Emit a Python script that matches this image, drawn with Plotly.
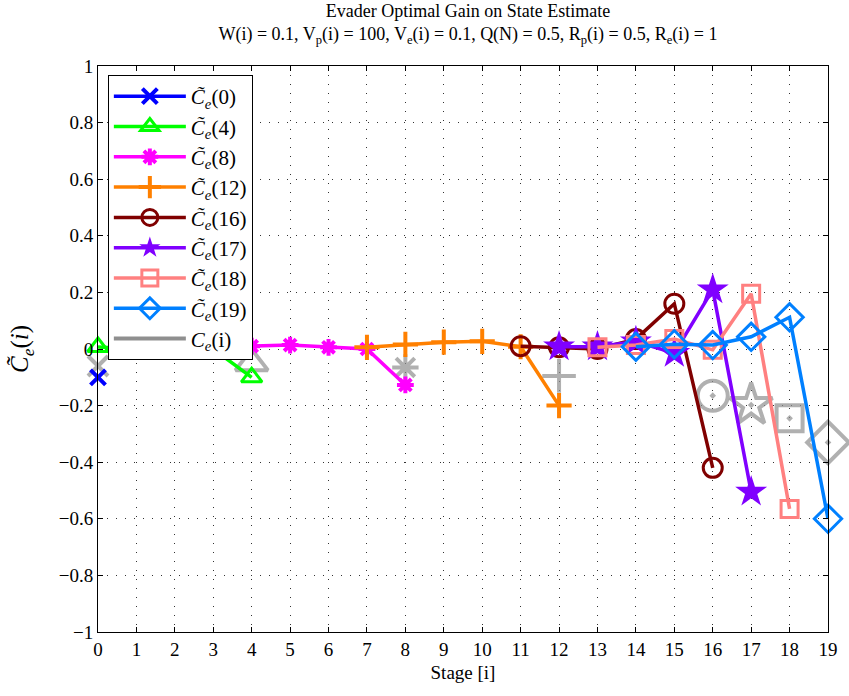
import plotly.graph_objects as go

# ---- data ----
stages_c0 = [0]
vals_c0 = [-0.10]

stages_c4 = [0, 1, 2, 3, 4]
vals_c4 = [0.007, 0.0, 0.0, 0.0, -0.10]

stages_c8 = [3, 4, 5, 6, 7, 8]
vals_c8 = [-0.005, 0.01, 0.014, 0.006, 0.0, -0.127]

stages_c12 = [7, 8, 9, 10, 11, 12]
vals_c12 = [0.006, 0.016, 0.024, 0.027, 0.008, -0.20]

stages_c16 = [11, 12, 13, 14, 15, 16]
vals_c16 = [0.01, 0.006, 0.0, 0.035, 0.16, -0.42]

stages_c17 = [12, 13, 14, 15, 16, 17]
vals_c17 = [0.008, 0.008, 0.026, -0.015, 0.21, -0.505]

stages_c18 = [13, 14, 15, 16, 17, 18]
vals_c18 = [0.006, 0.014, 0.035, -0.003, 0.195, -0.565]

stages_c19 = [14, 15, 16, 17, 18, 19]
vals_c19 = [0.008, 0.017, 0.014, 0.043, 0.112, -0.60]

ce_stages = [0, 4, 8, 12, 16, 17, 18, 19]
ce_vals = [-0.06, -0.05, -0.065, -0.095, -0.165, -0.198, -0.245, -0.33]
ce_symbols = ["x-thin-open", "triangle-up-open", "asterisk-open", "cross-thin-open",
              "circle-open-dot", "star-open-dot", "square-open-dot", "diamond-open-dot"]

labels = ["0", "4", "8", "12", "16", "17", "18", "19"]
x_ticks = list(range(0, 20))
y_ticks = [-1, -0.8, -0.6, -0.4, -0.2, 0, 0.2, 0.4, 0.6, 0.8, 1]

series = [
    (stages_c0, vals_c0, "#0000ff", "x-thin-open", 15, 4),
    (stages_c4, vals_c4, "#00ff00", "triangle-up-open", 18, 3),
    (stages_c8, vals_c8, "#ff00ff", "asterisk-open", 14, 4),
    (stages_c12, vals_c12, "#ff8000", "cross-thin-open", 18, 4),
    (stages_c16, vals_c16, "#800000", "circle-open", 19, 3),
    (stages_c17, vals_c17, "#8000ff", "star", 24, 0),
    (stages_c18, vals_c18, "#ff8080", "square-open", 17, 3),
    (stages_c19, vals_c19, "#0080ff", "diamond-open", 21, 3),
]

SERIF = "Liberation Serif"
GRAY = "#8f8f8f"
fig = go.Figure()

# gray reference markers (behind)
fig.add_trace(go.Scatter(
    x=ce_stages, y=ce_vals, mode="markers", showlegend=False, cliponaxis=False,
    marker=dict(symbol=ce_symbols, size=[20, 28, 22, 24, 30, 32, 26, 32],
                color=GRAY, line=dict(color=GRAY, width=4)),
))

for (xs, ys, col, sym, sz, lw), lab in zip(series, labels):
    fig.add_trace(go.Scatter(
        x=xs, y=ys, mode="lines+markers", cliponaxis=False,
        name=f"<i>C̃</i><sub><i>e</i></sub>({lab})",
        line=dict(color=col, width=3.5),
        marker=dict(symbol=sym, size=sz, color=col, line=dict(color=col, width=lw)),
    ))

fig.add_trace(go.Scatter(
    x=[None], y=[None], mode="lines", name="<i>C</i><sub><i>e</i></sub>(i)",
    line=dict(color=GRAY, width=4),
))

axis_common = dict(
    showline=True, linecolor="black", linewidth=1, mirror="ticks",
    ticks="inside", ticklen=5, tickcolor="black",
    showgrid=True, gridcolor="rgba(0,0,0,0.8)", gridwidth=1, griddash="1px,8px",
    zeroline=False, tickfont=dict(family=SERIF, size=19, color="black"),
)

fig.update_xaxes(range=[0, 19], tickvals=x_ticks, **axis_common,
                 title=dict(text="Stage [i]", font=dict(family=SERIF, size=19, color="black"), standoff=6))
fig.update_yaxes(range=[-1, 1], tickvals=y_ticks, **axis_common,
                 title=dict(text="<i>C̃</i><sub><i>e</i></sub>(<i>i</i>)",
                            font=dict(family=SERIF, size=25, color="black"), standoff=22))

fig.update_layout(
    width=849, height=696,
    margin=dict(l=98, r=11, t=66, b=64),
    paper_bgcolor="white", plot_bgcolor="white",
    title=dict(
        text="Evader Optimal Gain on State Estimate<br>"
             "W(i) = 0.1, V<sub>p</sub>(i) = 100, V<sub>e</sub>(i) = 0.1, Q(N) = 0.5, "
             "R<sub>p</sub>(i) = 0.5, R<sub>e</sub>(i) = 1",
        x=0.5512, xanchor="center", y=0.976, yanchor="top",
        font=dict(family=SERIF, size=18, color="black"),
    ),
    legend=dict(
        x=0.0135, y=0.984, xanchor="left", yanchor="top",
        bgcolor="white", bordercolor="black", borderwidth=1,
        font=dict(family=SERIF, size=21, color="black"),
        tracegroupgap=0, itemwidth=72,
    ),
    showlegend=True,
)

fig.write_html("out.html", config={"displayModeBar": False},
               post_script="document.body.style.margin='0';document.body.style.padding='0';")
